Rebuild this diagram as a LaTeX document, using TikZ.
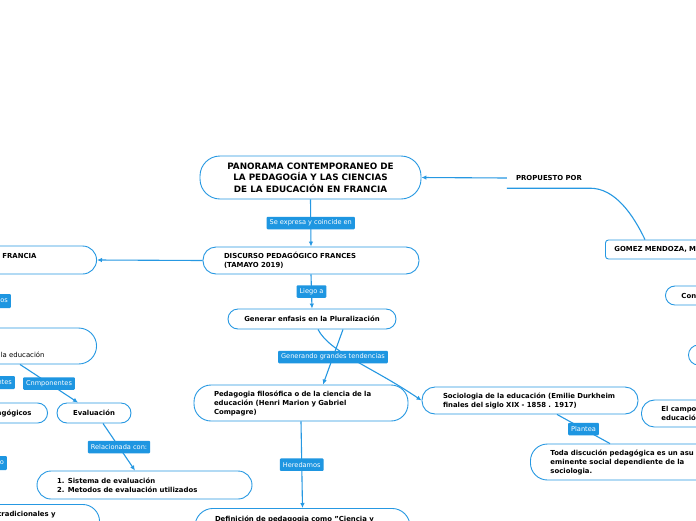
\documentclass[tikz,border=0pt]{standalone}
\usepackage{fontspec}
\setmainfont{DejaVu Sans}
\usetikzlibrary{positioning, arrows.meta, calc}
\definecolor{mapblue}{RGB}{38,152,226}
\definecolor{tagblue}{RGB}{30,150,225}

\begin{document}
\begin{tikzpicture}[
  x=1pt, y=-1pt,
  every node/.style={inner sep=0pt},
  pill/.style={draw=mapblue, line width=0.9pt, fill=white, font=\bfseries\fontsize{6.9}{9}\selectfont},
  tag/.style={fill=tagblue, text=white, rounded corners=1pt, inner xsep=3pt, minimum height=12.5pt, font=\fontsize{6.6}{7}\selectfont},
  link/.style={draw=mapblue, line width=1.1pt},
  arrowlink/.style={link, -{Latex[length=5pt,width=4.5pt]}}
]
\fill[white] (0,0) rectangle (696,520);
\useasboundingbox (0,0) rectangle (696,520);

% centre column
\node[pill, rounded corners=20pt, minimum width=221pt, minimum height=43pt, align=center,
  font=\bfseries\fontsize{8.8}{11.3}\selectfont] (panorama) at (310.5,177.5)
  {PANORAMA CONTEMPORANEO DE\\LA PEDAGOGÍA Y LAS CIENCIAS\\DE LA EDUCACIÓN EN FRANCIA};
\node[pill, rounded corners=13pt, minimum height=27pt, text width=174pt, inner xsep=21pt, align=left]
  (discurso) at (311,260.5) {DISCURSO PEDAGÓGICO FRANCES\\(TAMAYO 2019)};
\node[pill, rounded corners=10pt, minimum width=168pt, minimum height=20pt]
  (enfasis) at (312,319) {Generar enfasis en la Pluralización};
\node[pill, rounded corners=17pt, minimum height=36pt, text width=174pt, inner xsep=20pt, align=left]
  (pedagogia) at (301,403) {Pedagogia filosófica o de la ciencia de la\\educación (Henri Marion y Gabriel\\Compagre)};
\node[pill, anchor=north, rounded corners=18pt, inner ysep=8pt, text depth=20pt, text width=175pt, inner xsep=20pt, align=left]
  (definicion) at (302.5,508) {Definición de pedagogia como "Ciencia y};

% right side
\node[pill, rounded corners=13pt, minimum height=27pt, text width=174pt, inner xsep=21pt, align=left]
  (sociologia) at (530,400.5) {Sociologia de la educación (Emilie Durkheim\\finales del siglo XIX - 1858 . 1917)};
\node[pill, anchor=west, rounded corners=17pt, minimum height=36pt, text width=200pt, inner xsep=20pt, align=left]
  (discusion) at (530,462) {Toda discución pedagógica es un asu\\eminente social dependiente de la\\sociologia.};
\node[font=\bfseries\fontsize{6.9}{9}\selectfont, inner xsep=9pt, minimum height=20pt]
  (propuesto) at (549,178) {PROPUESTO POR};
\node[pill, anchor=west, rounded corners=3pt, minimum height=19pt, text width=150pt, inner xsep=9pt, align=left]
  (gomez) at (605,249.5) {GOMEZ MENDOZA, M};
\node[pill, anchor=west, rounded corners=9.5pt, minimum height=19pt, text width=60pt, inner xsep=16pt, align=left]
  (con) at (665,295.5) {Con};
\node[pill, anchor=west, rounded corners=10pt, minimum height=20pt, minimum width=60pt]
  (vacio) at (688,355) {};
\node[pill, anchor=west, rounded corners=13pt, minimum height=27pt, text width=100pt, inner xsep=20pt, align=left]
  (campo) at (641,413.5) {El campo\\educació};

% left side
\node[pill, anchor=east, rounded corners=14pt, minimum height=28pt, text width=100pt, inner xsep=60pt, align=right, text depth=8pt]
  (francia) at (97,260) {FRANCIA};
\node[pill, anchor=east, rounded corners=18pt, minimum height=36pt, text width=100pt, inner xsep=52pt, align=right,
  font=\fontsize{6.9}{9}\selectfont, text height=24pt, text depth=1pt]
  (educacion) at (97,346) {la educación};
\node[pill, anchor=east, rounded corners=10pt, minimum height=20pt, text width=100pt, inner xsep=16pt, align=right]
  (pedagogicos) at (48,413) {agógicos};
\node[pill, rounded corners=10pt, minimum width=74pt, minimum height=20pt]
  (evaluacion) at (94,413) {Evaluación};
\node[pill, rounded corners=14pt, minimum height=28pt, text width=175pt, inner xsep=20pt, align=left]
  (sistemas) at (144.5,485) {1. Sistema de evaluación\\2. Metodos de evaluación utilizados};
\node[pill, anchor=north east, rounded corners=17pt, inner ysep=7pt, text depth=20pt, text width=100pt, inner xsep=44pt, align=right]
  (tradicionales) at (100,504) {tradicionales y};

\node[tag, anchor=east, minimum height=14pt] (tagos) at (11,301) {os};
\node[tag, anchor=east, minimum height=13pt] (tagntes) at (15,382.5) {ntes};
\node[tag, anchor=east, minimum height=14pt] (tago) at (7,463) {o};

% connectors
\draw[arrowlink] (panorama.south) -- node[tag] (tagexpresa) {Se expresa y coincide en} (discurso.north);
\draw[arrowlink] (discurso.south) -- node[tag] (tagllego) {Liego a} (enfasis.north);
\draw[arrowlink] (discurso.west) -- (francia.east);
\draw[arrowlink] ([xshift=6pt]enfasis.south) .. controls +(12,23) and +(-50,-34) .. (sociologia.west);
\draw[arrowlink] ([xshift=31pt]enfasis.south) -- node[tag] (taggenerando) {Generando grandes tendencias} ([xshift=22pt]pedagogia.north);
\draw[arrowlink] (pedagogia.south) -- node[tag] (tagheredamos) {Heredamos} (definicion.north);
\draw[link] ([xshift=27pt]sociologia.south) -- node[tag] (tagplantea) {Plantea} ([xshift=80pt]discusion.north west);
\draw[arrowlink] ([xshift=-77pt]educacion.south east) -- node[tag] (tagcomponentes) {Cnmponentes} ([xshift=-16pt]evaluacion.north);
\draw[arrowlink] ([xshift=9pt]evaluacion.south) -- node[tag] (tagrelacionada) {Relacionada con:} ([xshift=-9.5pt]sistemas.north);
\draw[arrowlink] (propuesto.west) -- (panorama.east);
\draw[link] (propuesto.south west) -- ([xshift=-1pt]propuesto.south east)
  .. controls +(25,0) and +(-12,-25) .. ([xshift=40pt]gomez.north west);

\end{tikzpicture}
\end{document}
